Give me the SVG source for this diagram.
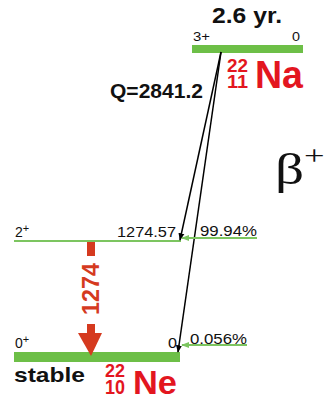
<svg xmlns="http://www.w3.org/2000/svg" width="331" height="398" viewBox="0 0 331 398">
<defs>
<style>
.t{font-family:"Liberation Sans",Arial,sans-serif;fill:#111}
.b{font-weight:bold}
.r{fill:#e3161f;font-family:"Liberation Sans",Arial,sans-serif;font-weight:bold}
.lv{fill:#6dbf47}
.thin{stroke:#7cc560;stroke-width:2;fill:none}
.conn{stroke:#000;stroke-width:1.5;fill:none}
</style>
<marker id="ak" viewBox="0 0 10 10" refX="9" refY="5" markerWidth="5" markerHeight="5" orient="auto"><path d="M0,1 L10,5 L0,9 z" fill="#000"/></marker>
<marker id="ag" viewBox="0 0 10 10" refX="9" refY="5" markerWidth="4" markerHeight="4" orient="auto"><path d="M0,1 L10,5 L0,9 z" fill="#7cc560"/></marker>
</defs>
<rect width="331" height="398" fill="#fff"/>

<g id="na22">
<rect class="lv" x="192" y="45" width="111" height="8"/>
<text class="t b" x="212" y="23" font-size="22" textLength="70" lengthAdjust="spacingAndGlyphs">2.6 yr.</text>
<text class="t" x="193" y="41" font-size="12" textLength="17" lengthAdjust="spacingAndGlyphs">3+</text>
<text class="t" x="292" y="41" font-size="12" textLength="8" lengthAdjust="spacingAndGlyphs">0</text>
<text class="r" x="227" y="72" font-size="19" textLength="21" lengthAdjust="spacingAndGlyphs">22</text>
<text class="r" x="227" y="88" font-size="19" textLength="21" lengthAdjust="spacingAndGlyphs">11</text>
<text class="r" x="255" y="88" font-size="38" textLength="48" lengthAdjust="spacingAndGlyphs">Na</text>
</g>

<g id="ne22-2plus">
<line class="thin" x1="14" y1="241" x2="181" y2="241"/>
<text class="t" x="15" y="237" font-size="14">2<tspan font-size="11" dy="-5">+</tspan></text>
<text class="t" x="117" y="237" font-size="14" textLength="59" lengthAdjust="spacingAndGlyphs">1274.57</text>
<text class="t" x="200" y="236" font-size="15" textLength="57" lengthAdjust="spacingAndGlyphs">99.94%</text>
</g>

<g id="ne22-ground">
<rect class="lv" x="14" y="352" width="166" height="10"/>
<text class="t" x="15" y="348" font-size="14">0<tspan font-size="11" dy="-5">+</tspan></text>
<text class="t" x="168" y="348" font-size="14" textLength="9" lengthAdjust="spacingAndGlyphs">0</text>
<text class="t" x="190" y="344" font-size="14" textLength="57" lengthAdjust="spacingAndGlyphs">0.056%</text>
<text class="t b" x="14" y="382" font-size="21" textLength="71" lengthAdjust="spacingAndGlyphs">stable</text>
<text class="r" x="105" y="377" font-size="19" textLength="20" lengthAdjust="spacingAndGlyphs">22</text>
<text class="r" x="105" y="394" font-size="20" textLength="20" lengthAdjust="spacingAndGlyphs">10</text>
<text class="r" x="133" y="394" font-size="33" textLength="44" lengthAdjust="spacingAndGlyphs">Ne</text>
</g>

<g id="labels">
<text class="t b" x="110" y="98" font-size="20" textLength="93" lengthAdjust="spacingAndGlyphs">Q=2841.2</text>
<g transform="translate(275,184) scale(1.3,1)">
<text x="0" y="0" font-family="'Liberation Serif','Times New Roman',serif" font-size="44" fill="#111">β<tspan font-size="28" dy="-19">+</tspan></text>
</g>
</g>

<g id="gamma">
<rect x="87" y="242" width="8" height="14" fill="#d53a1f"/>
<text x="0" y="0" transform="translate(99,289) rotate(-90)" text-anchor="middle" font-family="'Liberation Sans',Arial,sans-serif" font-weight="bold" font-size="24" fill="#d53a1f" textLength="52" lengthAdjust="spacingAndGlyphs">1274</text>
<rect x="87" y="324" width="8" height="10" fill="#d53a1f"/>
<path d="M78,333 L102,333 L91,356 z" fill="#d53a1f"/>
</g>

<g id="connectors">
<line class="conn" x1="221" y1="52" x2="180" y2="240" marker-end="url(#ak)"/>
<line class="conn" x1="221" y1="52" x2="178" y2="352" marker-end="url(#ak)"/>
<line class="thin" x1="257" y1="238" x2="182" y2="238" marker-end="url(#ag)"/>
<line class="thin" x1="247" y1="345" x2="182" y2="345" marker-end="url(#ag)"/>
</g>
</svg>
